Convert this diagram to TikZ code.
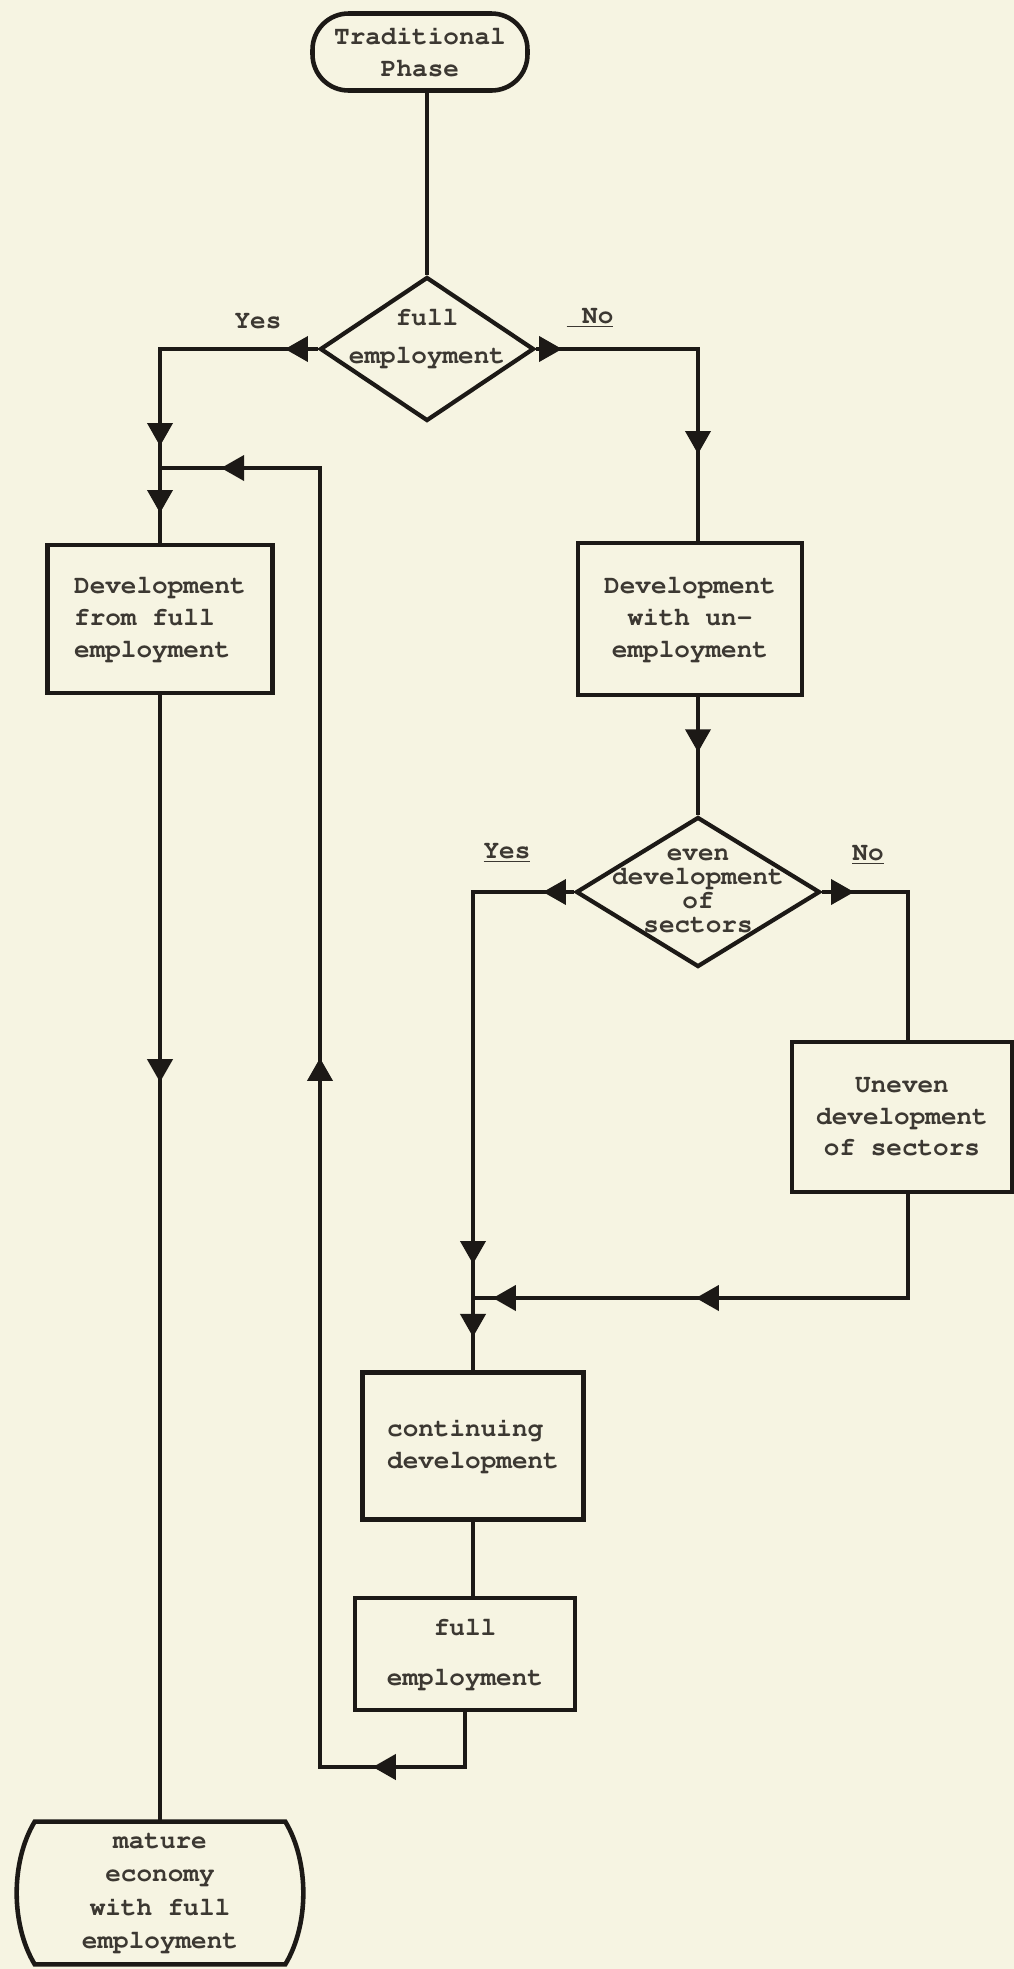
\documentclass[tikz,border=0pt]{standalone}
\usepackage[T1]{fontenc}
\usepackage{courier}
\usetikzlibrary{shapes.geometric,arrows.meta,decorations.markings}
\definecolor{paper}{RGB}{246,244,226}
\definecolor{ink}{RGB}{28,25,22}
\definecolor{txtc}{RGB}{60,56,50}
\tikzset{
  lbl/.style={font=\fontsize{14.8}{18.2}\selectfont\ttfamily\bfseries, text=txtc, inner sep=0pt, align=center},
  box/.style={lbl, draw=ink, line width=2.6pt, rectangle},
  dia/.style={draw=ink, line width=2.4pt, diamond, inner sep=0pt},
  conn/.style={draw=ink, line width=2.2pt},
  ar/.style={postaction={decorate, decoration={markings, mark=at position #1 with {\arrow{Triangle[length=0.46cm,width=0.5cm]}}}}},
}
\begin{document}
\begin{tikzpicture}[x=0.02cm, y=-0.02cm]
\fill[paper] (0,0) rectangle (1014,1969);
\useasboundingbox (0,0) rectangle (1014,1969);

% nodes
\node[box, rounded corners=0.72cm, minimum width=4.3cm, minimum height=1.54cm] (trad) at (420,52) {Traditional\\Phase};
\node[dia, minimum width=4.28cm, minimum height=2.88cm] (d1) at (427,349) {};
\node[lbl, font=\fontsize{14.8}{22}\selectfont\ttfamily\bfseries] (d1t) at (427,338) {full\\employment};
\node[box, align=left, minimum width=4.5cm, minimum height=2.96cm] (dfe) at (160,619) {Development\\from full\\employment};
\node[box, minimum width=4.48cm, minimum height=3.04cm] (dwu) at (690,619) {Development\\with un-\\employment};
\node[dia, minimum width=4.88cm, minimum height=3.0cm] (d2) at (698,892) {};
\node[lbl, font=\fontsize{14.8}{13.7}\selectfont\ttfamily\bfseries] (d2t) at (698,891) {even\\development\\of\\sectors};
\node[box, minimum width=4.4cm, minimum height=3.0cm] (ued) at (902,1117) {Uneven\\development\\of sectors};
\node[box, align=left, minimum width=4.42cm, minimum height=2.94cm] (cd) at (473,1446) {continuing\\development};
\node[box, minimum width=4.4cm, minimum height=2.24cm, font=\fontsize{14.8}{28}\selectfont\ttfamily\bfseries] (fe) at (465,1654) {full\\employment};
\node[lbl, minimum width=5cm, minimum height=2.84cm, font=\fontsize{14.8}{18.8}\selectfont\ttfamily\bfseries] (mature) at (160,1893) {mature\\economy\\with full\\employment};
\draw[ink, line width=2.6pt] (mature.north west) -- (mature.north east)
  .. controls +(24,40) and +(24,-40) .. (mature.south east) -- (mature.south west)
  .. controls +(-24,-40) and +(-24,40) .. (mature.north west) -- cycle;

% labels
\node[lbl] (yes1) at (258,322) {Yes};
\node[lbl] (no1) at (590,318) {\underline{\ No}};
\node[lbl] (yes2) at (507,853) {\underline{Yes}};
\node[lbl] (no2) at (868,855) {\underline{No}};

% corner coordinates
\coordinate (c1) at (160,349);
\coordinate (j1) at (160,468);
\coordinate (c2) at (698,349);
\coordinate (c3) at (473,892);
\coordinate (c4) at (908,892);
\coordinate (c5) at (908,1298);
\coordinate (j2) at (473,1298);
\coordinate (c6) at (465,1767);
\coordinate (c7) at (320,1767);
\coordinate (c8) at (320,468);

% connectors
\draw[conn] (d1.north |- trad.south) -- (d1.north);
\draw[conn, ar=0.66cm, ar=5.1cm, ar=6.44cm] (d1.west) -- (c1) -- (dfe.north);
\draw[conn, ar=0.52cm, ar=5.34cm] (d1.east) -- (c2) -- (c2 |- dwu.north);
\draw[conn, ar=7.74cm] (dfe.south) -- (mature.north);
\draw[conn, ar=2.94cm, ar=18.18cm, ar=31.96cm] (fe.south) -- (c6) -- (c7) -- (c8) -- (j1);
\draw[conn, ar=1.1cm] (c2 |- dwu.south) -- (d2.north);
\draw[conn, ar=0.62cm, ar=9.46cm, ar=10.92cm] (d2.west) -- (c3) -- (cd.north);
\draw[conn, ar=0.64cm] (d2.east) -- (c4) -- (c4 |- ued.north);
\draw[conn, ar=6.32cm, ar=10.38cm] (c4 |- ued.south) -- (c5) -- (j2);
\draw[conn] (cd.south) -- (cd.south |- fe.north);
\end{tikzpicture}
\end{document}
